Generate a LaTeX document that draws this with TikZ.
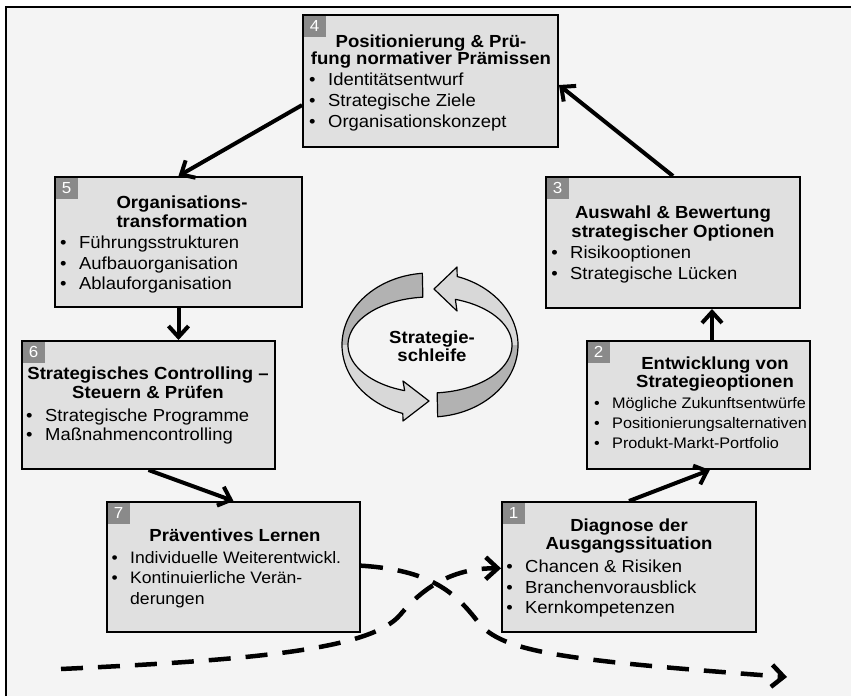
\documentclass[tikz,border=0pt]{standalone}
\usepackage{fontspec}
\setmainfont{Liberation Sans}[FakeStretch=1.06]
\usetikzlibrary{arrows.meta,calc}

\definecolor{pagebg}{RGB}{244,244,244}
\definecolor{boxfill}{RGB}{224,224,224}
\definecolor{numfill}{RGB}{138,138,138}
\definecolor{ribbondark}{RGB}{178,178,178}
\definecolor{ribbonlight}{RGB}{216,216,216}

\tikzset{
  stagebox/.style={draw=black, line width=2pt, fill=boxfill, inner sep=0pt},
  numbox/.style={fill=numfill, text=white, inner sep=0pt, minimum width=22pt,
    minimum height=21pt, font=\fontsize{16}{16}\selectfont},
  titletext/.style={anchor=base, inner sep=0pt, font=\fontsize{17.5}{20}\selectfont\bfseries},
  itemtext/.style={anchor=base west, inner sep=0pt, font=\fontsize{17.4}{20}\selectfont},
  itemsmall/.style={itemtext, font=\fontsize{15.3}{18}\selectfont},
  itemnarrow/.style={itemtext, font=\fontsize{16.6}{20}\selectfont},
  flowarrow/.style={line width=4pt, -{Straight Barb[length=11pt,width=20pt]}},
  flowdash/.style={line width=4.5pt, dash pattern=on 22pt off 15pt,
    -{Straight Barb[length=12pt,width=22pt]}},
  ribbonedge/.style={draw=black, line width=1.2pt},
}

% stage box: name, x1, y1, x2, y2, number
\newcommand\stage[6]{%
  \node[stagebox, minimum width={(#4-#2)*1pt}, minimum height={(#5-#3)*1pt}]
    (#1) at ({(#2+#4)/2},{(#3+#5)/2}) {};
  \node[numbox, anchor=north west] (#1num) at ([xshift=1.5pt,yshift=-1.5pt]#1.north west) {#6};
}
% heading line: name, x, y, text
\newcommand\tline[4]{\node[titletext] (#1) at (#2,#3) {#4};}
% bullet line: style, name, x, y, text
\newcommand\bline[5]{\node[#1] (#2) at (#3,#4) {\llap{\textbullet\hspace{12.5pt}}#5};}

\begin{document}
\begin{tikzpicture}[x=1pt,y=-1pt]
\useasboundingbox (0,0) rectangle (851,696);
\fill[white] (0,0) rectangle (851,696);
\fill[pagebg] (6,7) rectangle (851,696);
\draw[line width=2pt] (6,696) -- (6,7) -- (851,7);

% ---- stage boxes ----
\stage{b4}{303}{15}{558}{147}{4}
\tline{b4t1}{431}{47}{Positionierung \& Prü-}
\tline{b4t2}{431}{64}{fung normativer Prämissen}
\bline{itemtext}{b4i1}{328}{85}{Identitätsentwurf}
\bline{itemtext}{b4i2}{328}{106}{Strategische Ziele}
\bline{itemtext}{b4i3}{328}{127}{Organisationskonzept}

\stage{b5}{55}{177}{302}{307}{5}
\tline{b5t1}{182}{208}{Organisations-}
\tline{b5t2}{182}{227}{transformation}
\bline{itemtext}{b5i1}{79}{248}{Führungsstrukturen}
\bline{itemtext}{b5i2}{79}{269}{Aufbauorganisation}
\bline{itemtext}{b5i3}{79}{289}{Ablauforganisation}

\stage{b3}{546}{177}{800}{308}{3}
\tline{b3t1}{673}{218}{Auswahl \& Bewertung}
\tline{b3t2}{673}{237}{strategischer Optionen}
\bline{itemtext}{b3i1}{570}{258}{Risikooptionen}
\bline{itemtext}{b3i2}{570}{279}{Strategische Lücken}

\stage{b6}{22}{341}{275}{469}{6}
\tline{b6t1}{148}{379}{Strategisches Controlling –}
\tline{b6t2}{148}{398}{Steuern \& Prüfen}
\bline{itemtext}{b6i1}{45}{421}{Strategische Programme}
\bline{itemtext}{b6i2}{45}{440}{Maßnahmencontrolling}

\stage{b2}{587}{341}{810}{469}{2}
\tline{b2t1}{715}{369}{Entwicklung von}
\tline{b2t2}{715}{387}{Strategieoptionen}
\bline{itemsmall}{b2i1}{612}{408}{Mögliche Zukunftsentwürfe}
\bline{itemsmall}{b2i2}{612}{428}{Positionierungsalternativen}
\bline{itemsmall}{b2i3}{612}{448}{Produkt-Markt-Portfolio}

\stage{b7}{107}{502}{360}{632}{7}
\tline{b7t1}{235}{541}{Präventives Lernen}
\bline{itemnarrow}{b7i1}{130}{563}{Individuelle Weiterentwickl.}
\bline{itemnarrow}{b7i2}{130}{583}{Kontinuierliche Verän-}
\node[itemnarrow] (b7i3) at (130,604) {derungen};

\stage{b1}{502}{502}{756}{632}{1}
\tline{b1t1}{629}{531}{Diagnose der}
\tline{b1t2}{629}{549}{Ausgangssituation}
\bline{itemtext}{b1i1}{525}{572}{Chancen \& Risiken}
\bline{itemtext}{b1i2}{525}{593}{Branchenvorausblick}
\bline{itemtext}{b1i3}{525}{613}{Kernkompetenzen}

% ---- process arrows ----
\draw[flowarrow] ($(b4.north west)!0.68!(b4.south west)$) -- (b5.north);
\draw[flowarrow] (b5.south) -- (b5.south |- b6.north);
\draw[flowarrow] (b6.south) -- (b7.north);
\draw[flowarrow] (b1.north) -- ($(b2.south west)!0.55!(b2.south east)$);
\coordinate (b2top) at ($(b2.north west)!0.56!(b2.north east)$);
\draw[flowarrow] (b2top) -- (b2top |- b3.south);
\draw[flowarrow] (b3.north) -- ($(b4.north east)!0.53!(b4.south east)$);

% ---- dashed learning paths ----
\coordinate (dashstart) at (61,669);
\coordinate (dashend) at (787,677);
\draw[flowdash] ($(b7.north east)!0.49!(b7.south east)$)
  .. controls (430,570) and (455,592) .. (478,622)
  .. controls (502,652) and (560,660) .. (dashend);
\draw[flowdash] (dashstart)
  .. controls (250,660) and (370,650) .. (400,615)
  .. controls (425,585) and (455,568) .. ($(b1.north west)!0.51!(b1.south west)$);

% ---- strategy loop ----
% left ribbon arrow, upper part
\fill[ribbondark]
  plot[domain=95:180,samples=30] ({430+88*cos(\x)},{345-72*sin(\x)})
  -- plot[domain=180:95,samples=30] ({430+82*cos(\x)},{345-48*sin(\x)}) -- cycle;
% left ribbon arrow, lower part with head
\fill[ribbonlight]
  plot[domain=180:252,samples=30] ({430+88*cos(\x)},{345-72*sin(\x)})
  -- (403,421) -- (429,401) -- (403,381)
  -- plot[domain=252:180,samples=30] ({430+82*cos(\x)},{345-48*sin(\x)}) -- cycle;
\draw[ribbonedge, line join=round]
  plot[domain=95:252,samples=60] ({430+88*cos(\x)},{345-72*sin(\x)})
  -- (403,421) -- (429,401) -- (403,381)
  -- plot[domain=252:95,samples=60] ({430+82*cos(\x)},{345-48*sin(\x)}) -- cycle;
% right ribbon arrow, lower part
\fill[ribbondark]
  plot[domain=-85:0,samples=30] ({430+88*cos(\x)},{345-72*sin(\x)})
  -- plot[domain=0:-85,samples=30] ({430+82*cos(\x)},{345-48*sin(\x)}) -- cycle;
% right ribbon arrow, upper part with head
\fill[ribbonlight]
  plot[domain=0:72,samples=30] ({430+88*cos(\x)},{345-72*sin(\x)})
  -- (457,267) -- (434,289) -- (457,311)
  -- plot[domain=72:0,samples=30] ({430+82*cos(\x)},{345-48*sin(\x)}) -- cycle;
\draw[ribbonedge, line join=round]
  plot[domain=-85:72,samples=60] ({430+88*cos(\x)},{345-72*sin(\x)})
  -- (457,267) -- (434,289) -- (457,311)
  -- plot[domain=72:-85,samples=60] ({430+82*cos(\x)},{345-48*sin(\x)}) -- cycle;

\tline{loop1}{432}{343}{Strategie-}
\tline{loop2}{432}{361}{schleife}
\end{tikzpicture}
\end{document}
